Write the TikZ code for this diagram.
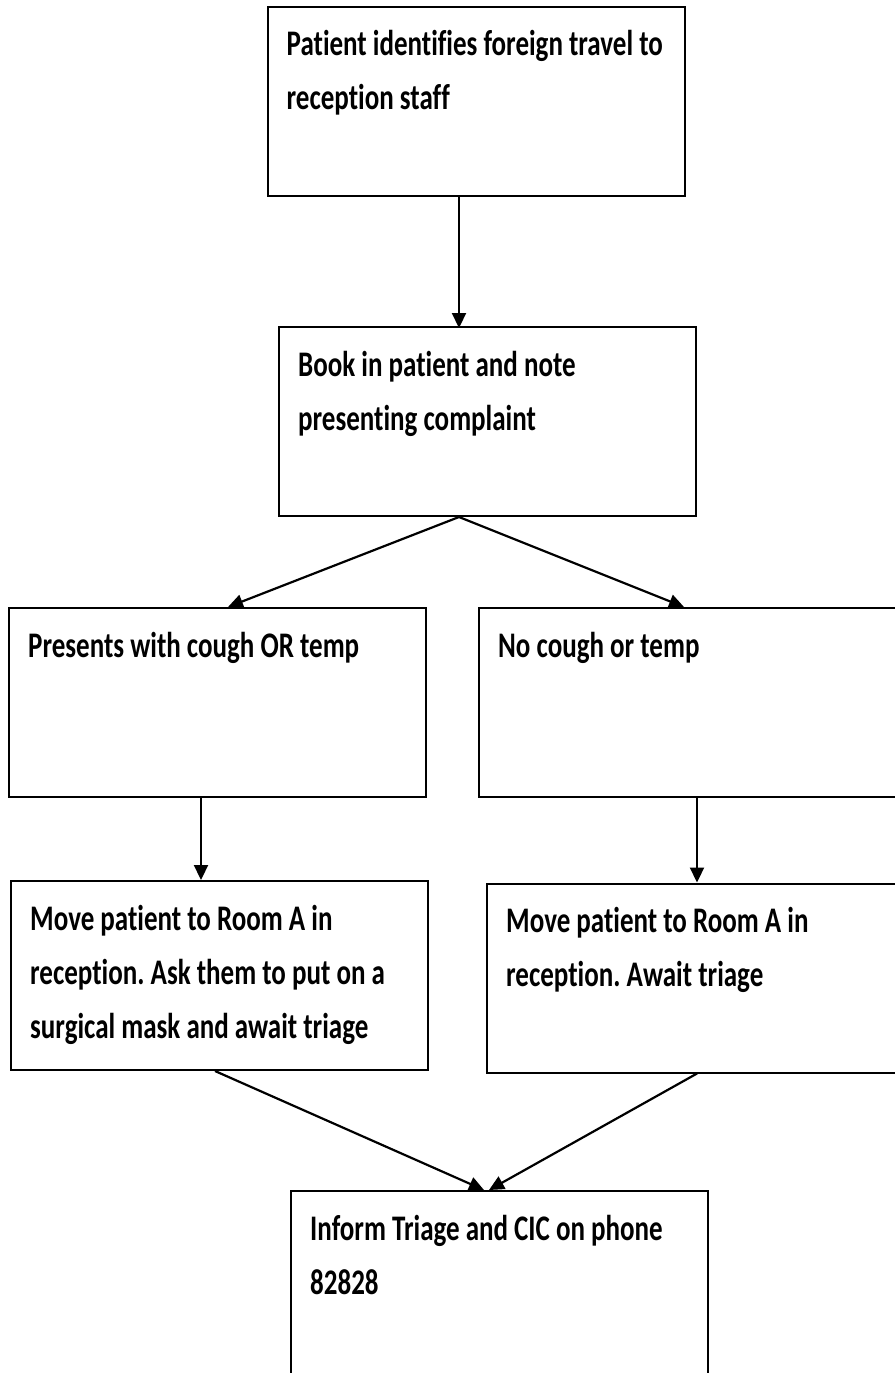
\documentclass[tikz,border=0pt]{standalone}
\usepackage{fontspec}
\setmainfont{Carlito}[FakeStretch=0.75,Ligatures=NoCommon]
\usetikzlibrary{arrows.meta,calc}
\begin{document}
\frenchspacing
\begin{tikzpicture}[x=1pt,y=-1pt,
  flowbox/.style={draw=black,line width=2pt,rectangle,minimum width=417pt,minimum height=189pt,inner sep=0pt},
  boxtext/.style={anchor=north west,align=left,inner sep=0pt,font=\fontsize{36}{54}\selectfont\bfseries\frenchspacing},
  conn/.style={line width=2.2pt,-{Triangle[length=15pt,width=14pt]}}]
\useasboundingbox (0,0) rectangle (894,1373);
\node[flowbox] (b1) at (476,101) {};
\node[flowbox] (b2) at (487.5,421.5) {};
\node[flowbox] (b3) at (217.5,702.5) {};
\node[flowbox] (b4) at (687.5,702.5) {};
\node[flowbox] (b5) at (219.5,975.5) {};
\node[flowbox] (b6) at (695.5,978) {};
\node[flowbox] (b7) at (499.5,1285.5) {};
\node[boxtext] (t1) at ($(b1.north west)+(20,12.2)$) {\strut Patient identifies foreign travel to\\reception staff};
\node[boxtext] (t2) at ($(b2.north west)+(20,12.2)$) {\strut Book in patient and note\\presenting complaint};
\node[boxtext] (t3) at ($(b3.north west)+(20,12.2)$) {\strut Presents with cough OR temp};
\node[boxtext] (t4) at ($(b4.north west)+(20,12.2)$) {\strut No cough or temp};
\node[boxtext] (t5) at ($(b5.north west)+(20,12.2)$) {\strut Move patient to Room A in\\reception. Ask them to put on a\\surgical mask and await triage};
\node[boxtext] (t6) at ($(b6.north west)+(20,12.2)$) {\strut Move patient to Room A in\\reception. Await triage};
\node[boxtext] (t7) at ($(b7.north west)+(20,12.2)$) {\strut Inform Triage and CIC on phone\\82828};
\draw[conn] ([xshift=-17pt]b1.south) -- ([xshift=-28.5pt,yshift=-2pt]b2.north);
\draw[conn] ([xshift=-28.5pt]b2.south) -- ([xshift=10.5pt]b3.north);
\draw[conn] ([xshift=-28.5pt]b2.south) -- ([xshift=-3.5pt]b4.north);
\draw[conn] ([xshift=-16.5pt]b3.south) -- ([xshift=-18.5pt]b5.north);
\draw[conn] ([xshift=9.5pt]b4.south) -- ([xshift=1.5pt]b6.north);
\draw[conn] ([xshift=-4.5pt]b5.south) -- ([xshift=-15.5pt]b7.north);
\draw[conn] ([xshift=1.5pt]b6.south) -- ([xshift=-10.5pt]b7.north);
\end{tikzpicture}
\end{document}
